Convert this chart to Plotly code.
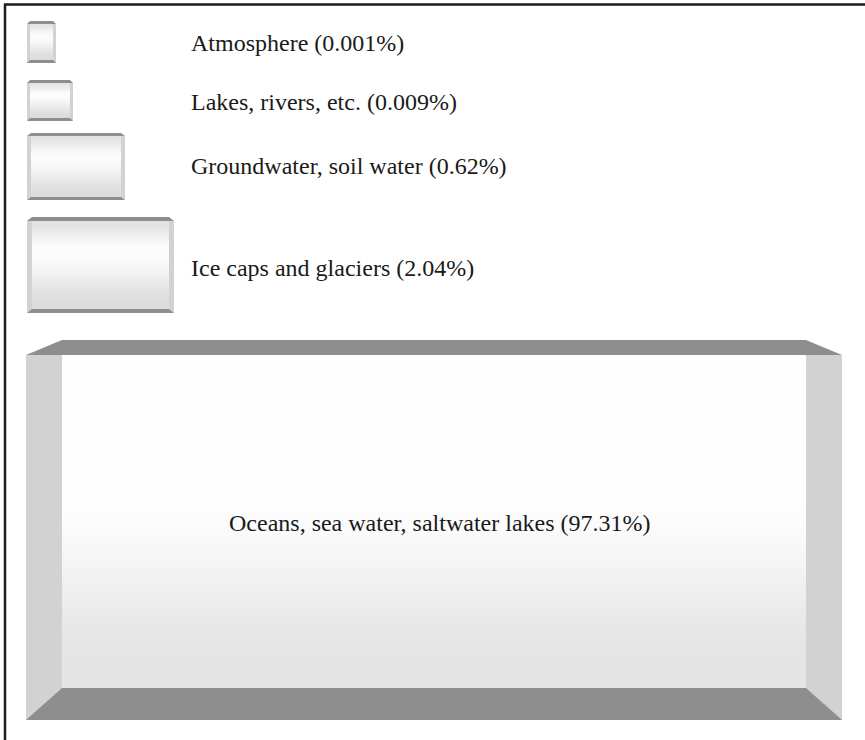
import plotly.graph_objects as go

# Distribution of the Earth's water by reservoir (percent of total volume)
categories = [
    "Atmosphere",
    "Lakes, rivers, etc.",
    "Groundwater, soil water",
    "Ice caps and glaciers",
    "Oceans, sea water, saltwater lakes",
]
shares = [0.001, 0.009, 0.62, 2.04, 97.31]

# Box geometry in pixel-like axis units: (x0, y0, x1, y1, top, side, bottom)
boxes = [
    (27, 21, 56, 63, 3, 3, 3),
    (27, 80, 73, 121, 3, 3, 3),
    (27, 133, 125, 200, 3, 4, 3),
    (27, 217, 174, 313, 4, 5, 4),
    (26, 340, 842, 720, 15, 36, 32),
]
# Label anchors: (x, y, x-anchor)
label_pos = [
    (189, 43, "left"),
    (189, 102, "left"),
    (189, 166, "left"),
    (189, 268, "left"),
    (440, 523, "center"),
]

W, H = 865, 740
DARK = "#8e8e8e"
SIDE = "#d2d2d2"
FONT = "Times New Roman, Liberation Serif, Tinos, serif"


def gray(v):
    v = int(round(max(0, min(255, v))))
    return f"rgb({v},{v},{v})"


def smooth(u):
    u = max(0.0, min(1.0, u))
    return u * u * (3 - 2 * u)


def face_level(t, big):
    # vertical shading of the front face, t = 0 at top, 1 at bottom
    if big:
        return 254 - 26 * smooth((t - 0.4) / 0.55)
    if t < 0.35:
        return 226 + 26 * smooth(t / 0.35)
    return 252 - 32 * smooth((t - 0.35) / 0.65)


shapes = []
for i, (x0, y0, x1, y1, t, s, b) in enumerate(boxes):
    big = i == len(boxes) - 1
    fx0, fx1, fy0, fy1 = x0 + s, x1 - s, y0 + t, y1 - b
    step = 3 if big else 1.5
    y = fy0
    while y < fy1:
        yy = min(y + step + 0.6, fy1)
        mid = ((y + yy) / 2 - fy0) / (fy1 - fy0)
        shapes.append(dict(type="rect", xref="x", yref="y", x0=fx0, x1=fx1, y0=y, y1=yy,
                           fillcolor=gray(face_level(mid, big)), line=dict(width=0)))
        y += step
    # side panels
    for sx0, sx1 in ((x0, x0 + s), (x1 - s, x1)):
        shapes.append(dict(type="rect", xref="x", yref="y", x0=sx0, x1=sx1, y0=y0 + t, y1=y1,
                           fillcolor=SIDE, line=dict(width=0)))
    # top bevel
    shapes.append(dict(type="path", xref="x", yref="y",
                       path=f"M {x0 + s},{y0} L {x1 - s},{y0} L {x1},{y0 + t} L {x0},{y0 + t} Z",
                       fillcolor=DARK, line=dict(width=0)))
    # bottom bevel
    shapes.append(dict(type="path", xref="x", yref="y",
                       path=f"M {x0},{y1} L {x1},{y1} L {x1 - s},{y1 - b} L {x0 + s},{y1 - b} Z",
                       fillcolor=DARK, line=dict(width=0)))

# outer frame (top and left edges)
shapes.append(dict(type="line", xref="x", yref="y", x0=4, x1=W, y0=4.5, y1=4.5,
                   line=dict(color="#1c1c1c", width=2.5)))
shapes.append(dict(type="line", xref="x", yref="y", x0=5, x1=5, y0=4, y1=H,
                   line=dict(color="#1c1c1c", width=2.5)))

annotations = []
for name, val, (lx, ly, anc) in zip(categories, shares, label_pos):
    annotations.append(dict(
        x=lx, y=ly, xref="x", yref="y", xanchor=anc, yanchor="middle",
        text=f"{name} ({val}%)", showarrow=False,
        font=dict(family=FONT, size=24, color="#1a1a1a"),
    ))

fig = go.Figure()
fig.update_layout(
    width=W, height=H,
    margin=dict(l=0, r=0, t=0, b=0),
    paper_bgcolor="white", plot_bgcolor="white",
    xaxis=dict(range=[0, W], visible=False, fixedrange=True),
    yaxis=dict(range=[H, 0], visible=False, fixedrange=True),
    shapes=shapes, annotations=annotations,
    showlegend=False,
)
fig.write_html("out.html")
